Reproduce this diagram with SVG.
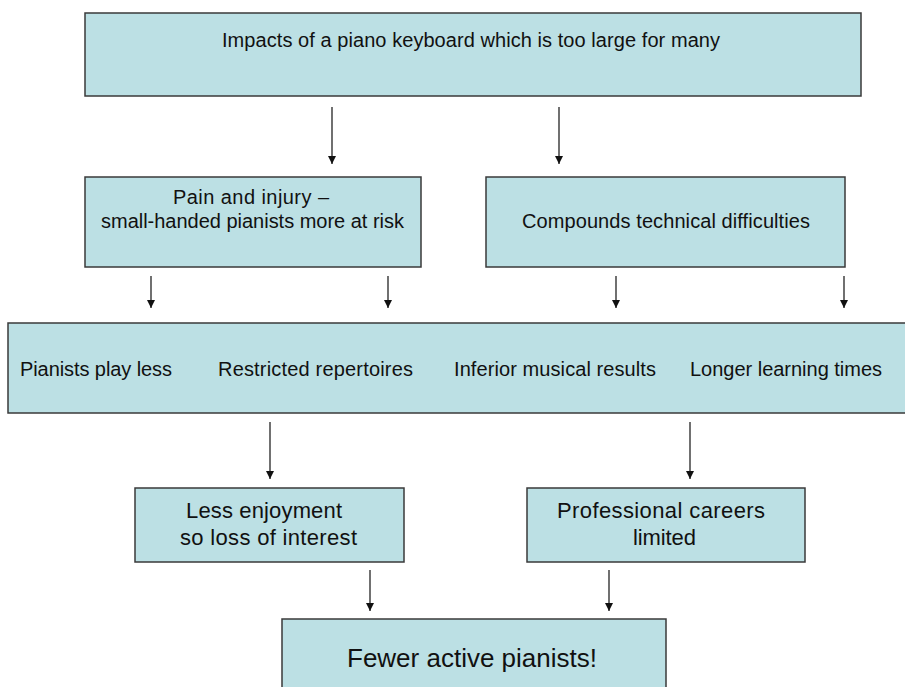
<svg xmlns="http://www.w3.org/2000/svg" width="905" height="687" viewBox="0 0 905 687">
<style>
.box{fill:#bce0e4;stroke:#3a3a3a;stroke-width:1.5}
.t{font-family:"Liberation Sans",Arial,sans-serif;font-size:20px;fill:#111;text-anchor:middle}
.mid{font-size:22px}
.big{font-size:26px}
.c{stroke:#111;stroke-width:1.2;fill:none;marker-end:url(#ah)}
</style>
<defs>
<marker id="ah" viewBox="0 0 8 10" refX="8" refY="5" markerWidth="9" markerHeight="10" markerUnits="userSpaceOnUse" orient="auto">
<path d="M0,1 L8,5 L0,9 Z" fill="#111"/>
</marker>
</defs>
<rect width="905" height="687" fill="#fff"/>
<g id="connectors">
<line class="c" x1="332" y1="107" x2="332" y2="164"/>
<line class="c" x1="559" y1="107" x2="559" y2="164"/>
<line class="c" x1="151" y1="276" x2="151" y2="308"/>
<line class="c" x1="388" y1="276" x2="388" y2="308"/>
<line class="c" x1="616" y1="276" x2="616" y2="308"/>
<line class="c" x1="844" y1="276" x2="844" y2="308"/>
<line class="c" x1="270" y1="422" x2="270" y2="479"/>
<line class="c" x1="690" y1="422" x2="690" y2="479"/>
<line class="c" x1="370" y1="570" x2="370" y2="611"/>
<line class="c" x1="609" y1="570" x2="609" y2="611"/>
</g>
<g id="top">
<rect class="box" x="85" y="13" width="776" height="83"/>
<text class="t" x="471" y="47" textLength="498">Impacts of a piano keyboard which is too large for many</text>
</g>
<g id="pain">
<rect class="box" x="85" y="177" width="336" height="90"/>
<text class="t" x="251" y="204" textLength="156">Pain and injury –</text>
<text class="t" x="252.5" y="228" textLength="303">small-handed pianists more at risk</text>
</g>
<g id="compounds">
<rect class="box" x="486" y="177" width="359" height="90"/>
<text class="t" x="666" y="228" textLength="288">Compounds technical difficulties</text>
</g>
<g id="effects">
<rect class="box" x="8" y="323" width="905" height="90"/>
<text class="t" x="96" y="376" textLength="152">Pianists play less</text>
<text class="t" x="315.5" y="376" textLength="195">Restricted repertoires</text>
<text class="t" x="555" y="376" textLength="202">Inferior musical results</text>
<text class="t" x="786" y="376" textLength="192">Longer learning times</text>
</g>
<g id="enjoyment">
<rect class="box" x="135" y="488" width="269" height="74"/>
<text class="t mid" x="264" y="518" textLength="156">Less enjoyment</text>
<text class="t mid" x="268.5" y="545" textLength="177">so loss of interest</text>
</g>
<g id="careers">
<rect class="box" x="527" y="488" width="278" height="74"/>
<text class="t mid" x="661" y="518" textLength="208">Professional careers</text>
<text class="t mid" x="664.5" y="545" textLength="63">limited</text>
</g>
<g id="fewer">
<rect class="box" x="282" y="619" width="384" height="90"/>
<text class="t big" x="472" y="667" textLength="250">Fewer active pianists!</text>
</g>
</svg>
